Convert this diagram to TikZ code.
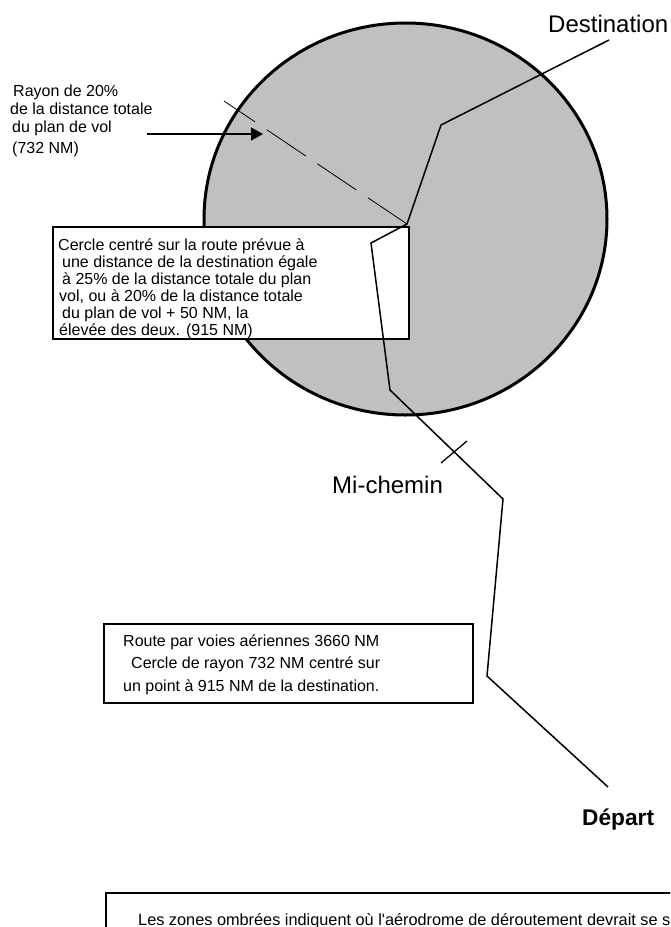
\documentclass[tikz,border=0pt]{standalone}
\usepackage{fontspec}
\setmainfont{Liberation Sans}[Ligatures=TeXOff]
\usetikzlibrary{arrows.meta}
\definecolor{zonegray}{RGB}{192,192,192}
\begin{document}
\begin{tikzpicture}[x=1pt,y=-1pt,
  zone/.style={fill=zonegray, draw=black, line width=3pt},
  routeline/.style={draw=black, line width=1.5pt, line join=miter},
  radiusline/.style={draw=black, line width=0.8pt, dash pattern=on 47pt off 14pt},
  pointer/.style={draw=black, line width=1.5pt, -{Triangle[length=12pt,width=13pt]}},
  textbox/.style={draw=black, fill=white, line width=1.8pt, inner sep=0pt, anchor=north west},
  txt/.style={anchor=base west, inner sep=0pt, font=\fontsize{16}{17}\selectfont},
  boxtxt/.style={anchor=base west, inner sep=0pt, font=\fontsize{16}{17}\selectfont},
  bigtxt/.style={anchor=base west, inner sep=0pt, font=\fontsize{24}{26}\selectfont},
  boldtxt/.style={anchor=base west, inner sep=0pt, font=\fontsize{22.7}{25}\selectfont\bfseries}
]
\useasboundingbox (0,0) rectangle (670,927);
\clip (0,0) rectangle (670,927);
\fill[white] (0,0) rectangle (670,927);

% shaded zone
\draw[zone] (405.5,219) ellipse [x radius=201.5pt, y radius=196pt];

% route points
\coordinate (dest) at (609,40);
\coordinate (r1) at (441,125);
\coordinate (ctr) at (407,224);
\coordinate (r2) at (371,243);
\coordinate (r3) at (390,390);
\coordinate (r4) at (503,499);
\coordinate (r5) at (487,676);
\coordinate (dep) at (608,787);
\coordinate (rad) at (224,101);
\coordinate (tickA) at (441,463);
\coordinate (tickB) at (467,441);
\coordinate (arrA) at (147,134);
\coordinate (arrB) at (263,134);

% radius (dashed)
\draw[radiusline] (ctr) -- (rad);
% arrow
\draw[pointer] (arrA) -- (arrB);

% upper text box
\node[textbox, minimum width=356pt, minimum height=112pt] (ubox) at (52,226) {};
\node[boxtxt] (u1) at (58,250) {Cercle centré sur la route prévue à};
\node[boxtxt] (u2) at (62,267) {une distance de la destination égale};
\node[boxtxt] (u3) at (62,284) {à 25\% de la distance totale du plan};
\node[boxtxt] (u4) at (59,301) {vol, ou à 20\% de la distance totale};
\node[boxtxt] (u5) at (62,318) {du plan de vol + 50 NM, la};
\node[boxtxt] (u6) at (59,335) {élevée des deux. (915 NM)};

% route
\draw[routeline] (dest) -- (r1) -- (ctr) -- (r2) -- (r3) -- (r4) -- (r5) -- (dep);
% mid-way tick
\draw[line width=1.3pt] (tickA) -- (tickB);

% labels
\node[txt] (ray1) at (13,96) {Rayon de 20\%};
\node[txt] (ray2) at (10,114) {de la distance totale};
\node[txt] (ray3) at (12,132.5) {du plan de vol};
\node[txt] (ray4) at (12,153) {(732 NM)};
\node[bigtxt] (ldest) at (548,32) {Destination};
\node[bigtxt] (lmid) at (332,493) {Mi-chemin};
\node[boldtxt] (ldep) at (582,825) {Départ};

% lower text box
\node[textbox, line width=1.5pt, minimum width=369pt, minimum height=79pt] (lbox) at (103,623) {};
\node[txt] (l1) at (123,646) {Route par voies aériennes 3660 NM};
\node[txt] (l2) at (131,668) {Cercle de rayon 732 NM centré sur};
\node[txt] (l3) at (123,691) {un point à 915 NM de la destination.};

% bottom note box
\node[textbox, line width=2pt, minimum width=600pt, minimum height=80pt] (nbox) at (105,892) {};
\node[txt, font=\fontsize{16.3}{18}\selectfont] (note) at (138,925) {Les zones ombrées indiquent où l'aérodrome de déroutement devrait se s};
\end{tikzpicture}
\end{document}
